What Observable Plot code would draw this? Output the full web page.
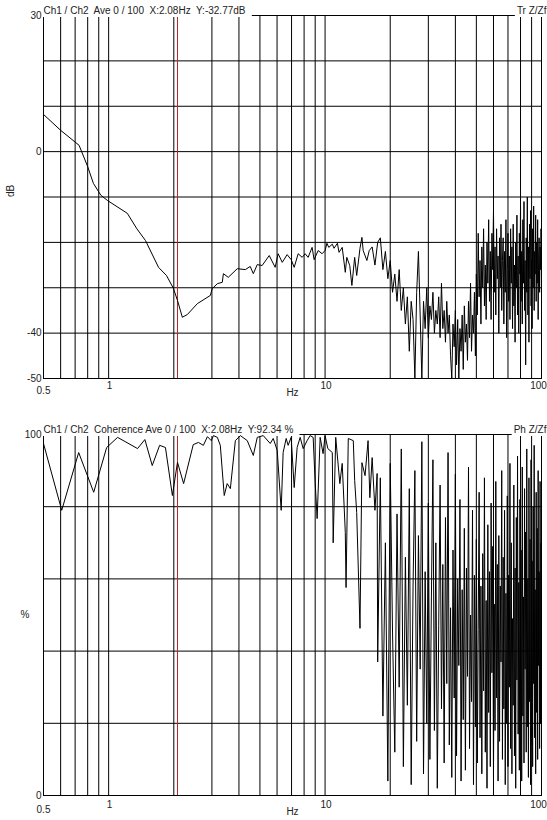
<!DOCTYPE html>
<html><head><meta charset="utf-8">
<script src="https://cdn.jsdelivr.net/npm/d3@7"></script>
<script src="https://cdn.jsdelivr.net/npm/@observablehq/plot@0.6"></script>
<style>
html,body{margin:0;padding:0;background:#fff;}
#chart svg{display:block;}
svg text{white-space:pre;}
</style></head><body><div id="chart"></div>
<script>
// ---- axis / grid definitions ----
const xGrid = [0.6,0.7,0.8,0.9,1,2,3,4,5,6,7,8,9,10,20,30,40,50,60,70,80,90];
const xTicks = [1,10];
const xLastTick = [100];
const xFirstTick = [0.5];
const topGrid = [20,10,0,-10,-20,-30,-40];
const topTicks = [30,0,-40,-50];
const botGrid = [80,60,40,20];
const botTicks = [100,0];
const cursorHz = [2.08];

// ---- transfer function (dB), low-frequency part ----
const trLowFreq = [0.5,0.60,0.73,0.80,0.85,0.92,0.99,1.22,1.35,1.48,1.70,1.85,1.99,2.08,2.19,2.31,2.57,2.95,3.01,3.18,3.35,3.39,3.57,3.93,4.28,4.51,4.66,4.86,5.12,5.52,5.88,6.07,6.34,6.68,6.97,7.20,7.51,7.84,8.09,8.35,8.71,8.90,9.29,9.69,10.0,10.2,10.4,10.8,11.0,11.4,11.6,12.0,12.4,12.6,13.0,13.3,13.7,14.0,14.5,14.8,15.0,15.6,16.0,16.5,17.0];
const trLowDb = [8.2,4.7,1.4,-3.3,-7.0,-9.6,-10.8,-13.6,-17.0,-19.6,-25.5,-27.3,-30.1,-32.8,-36.5,-35.9,-33.5,-31.7,-30.2,-29.1,-28.8,-26.9,-27.7,-25.8,-26.0,-25.3,-26.9,-24.9,-25.1,-22.9,-25.5,-22.5,-24.4,-22.7,-23.8,-25.5,-22.5,-23.3,-22.5,-23.3,-21.1,-23.8,-21.8,-22.5,-21.8,-20.2,-21.1,-20.4,-21.3,-20.2,-22.2,-21.1,-26.6,-23.3,-25.1,-29.5,-23.3,-27.3,-21.3,-18.9,-21.8,-24.0,-21.8,-21,-25];

// ---- shared high-frequency bins (Hz) ----
const hiFreq = [17.5,18,18.5,19,19.5,20,20.5,21,21.5,22,
22.5,23,23.5,24,24.5,25,25.5,26,26.5,27,
27.5,28,28.5,29,29.5,30,30.5,31,31.5,32,
32.5,33,33.5,34,34.5,35,35.5,36,36.5,37,
37.5,38,38.5,39,39.5,40,40.5,41,41.5,42,
42.5,43,43.5,44,44.5,45,45.5,46,46.5,47,
47.5,48,48.5,49,49.5,50,50.5,51,51.5,52,
52.5,53,53.5,54,54.5,55,55.5,56,56.5,57,
57.5,58,58.5,59,59.5,60,60.5,61,61.5,62,
62.5,63,63.5,64,64.5,65,65.5,66,66.5,67,
67.5,68,68.5,69,69.5,70,70.5,71,71.5,72,
72.5,73,73.5,74,74.5,75,75.5,76,76.5,77,
77.5,78,78.5,79,79.5,80,80.5,81,81.5,82,
82.5,83,83.5,84,84.5,85,85.5,86,86.5,87,
87.5,88,88.5,89,89.5,90,90.5,91,91.5,92,
92.5,93,93.5,94,94.5,95,95.5,96,96.5,97,
97.5,98,98.5,99,99.5,100];

// ---- transfer function (dB), high-frequency part ----
const trHiDb = [-20,-19,-26,-22,-28,-24,-31,-27,-33,-26,
-35,-30,-38,-32,-44,-33,-37,-50,-31,-22,
-36,-50,-33,-39,-30,-41,-34,-37,-31,-40,
-35,-38,-32,-41,-29,-39,-35,-42,-33,-40,
-36,-45,-50,-38,-43,-35,-47,-37,-50,-39,
-44,-36,-48,-34,-42,-38,-46,-33,-41,-29,
-44,-36,-40,-31,-45,-27,-36,-18,-32,-24,
-38,-21,-30,-17,-34,-25,-37,-20,-29,-15,
-33,-22,-37,-18,-26,-13,-31,-21,-36,-17,
-28,-23,-40,-19,-30,-16,-35,-24,-19,-38,
-22,-31,-15,-41,-26,-18,-33,-23,-37,-17,
-29,-21,-39,-16,-34,-25,-42,-20,-30,-14,
-36,-23,-40,-18,-27,-12,-33,-22,-38,-15,
-29,-11,-35,-24,-47,-19,-31,-10,-36,-21,
-42,-16,-28,-13,-34,-24,-39,-17,-30,-12,
-35,-22,-27,-14,-33,-20,-29,-15,-37,-23,
-19,-31,-21,-26,-17,-24];

// ---- coherence (%), low-frequency part ----
const cohLowFreq = [0.5,0.607,0.727,0.853,0.979,1.10,1.36,1.47,1.59,1.72,1.83,1.97,2.08,2.22,2.46,2.60,2.74,2.86,2.98,3.05,3.18,3.28,3.42,3.53,3.65,3.85,4.06,4.37,4.66,4.86,5.18,5.58,5.76,6.01,6.27,6.40,6.61,6.75,6.97,7.20,7.43,7.67,7.92,8.26,8.53,8.81,9.0,9.19,9.49,9.79,10.0,10.3,10.8,10.9,11.2,11.7,12.0,12.4,12.5,12.8,13.5,13.7,14.0,14.5,14.8,15.3,15.8,16.1,16.5,17.0,17.4];
const cohLowPct = [97.5,79,95,84,96.4,99.2,96.1,98.6,91.4,97,96.4,83.1,92.3,86.4,97.2,97.8,97,99.4,98.3,99.7,99.2,97,83.1,86.4,85,98.3,99.7,98.3,94.2,99.2,99.7,97.5,98.9,95.6,79,95,98.9,97,99.2,85.3,96.4,99.2,96.1,98.3,99.7,99.2,86.7,76.7,99.2,94.7,99.7,96.1,95,70,99.2,86.4,92,72.9,57.6,98.9,98.3,87.3,78.4,46.3,92.2,88.6,98.3,82.5,93.6,79,89.2];

// ---- coherence (%), high-frequency part ----
const cohHiPct = [37,88,22,70,4,92,45,12,78,30,
96,8,66,25,85,3,58,90,15,72,
35,98,6,62,20,81,10,55,93,18,
70,2,47,86,24,64,9,77,31,95,
14,52,5,68,27,89,11,60,36,82,
4,57,21,74,7,63,33,91,13,50,
26,79,3,61,19,71,9,46,84,16,
58,6,67,29,88,12,54,2,75,23,
62,8,81,34,69,5,53,18,87,27,
64,4,72,15,58,37,90,10,66,24,
79,3,56,20,83,8,61,30,92,13,
70,6,49,25,86,11,63,2,77,32,
94,17,59,7,82,28,68,4,91,22,
55,9,85,35,73,12,96,19,60,5,
88,26,71,3,93,14,65,8,80,31,
97,16,57,6,84,23,74,10,90,36,
62,13,87,20,70,45];

const topTitle = ["Ch1 / Ch2  Ave 0 / 100  X:2.08Hz  Y:-32.77dB"];
const topTag = ["Tr Z/Zf"];
const botTitle = ["Ch1 / Ch2  Coherence Ave 0 / 100  X:2.08Hz  Y:92.34 %"];
const botTag = ["Ph Z/Zf"];

const trData = trLowFreq.map((f,i)=>({f, v: trLowDb[i]})).concat(hiFreq.map((f,i)=>({f, v: trHiDb[i]})));
const cohData = cohLowFreq.map((f,i)=>({f, v: cohLowPct[i]})).concat(hiFreq.map((f,i)=>({f, v: cohHiPct[i]})));

const FONT = "'Liberation Sans', Arial, Helvetica, sans-serif";
const INK = "#222";

function panel(o) {
  return Plot.plot({
    width: 547, height: 410,
    marginLeft: 43, marginRight: 6, marginTop: o.mt, marginBottom: o.mb,
    style: {fontFamily: FONT, fontSize: "10px", color: INK, background: "#fff"},
    x: {type: "log", domain: [0.5, 100], axis: null},
    y: {domain: o.yDomain},
    marks: [
      Plot.ruleX(xGrid, {stroke: "#000", strokeWidth: 1}),
      Plot.ruleY(o.hGrid, {stroke: "#000", strokeWidth: 1}),
      Plot.frame({stroke: "#000", strokeWidth: 1}),
      Plot.ruleX(cursorHz, {stroke: "#b3262a", strokeWidth: 1}),
      Plot.text(o.title, {text: d => d, frameAnchor: "top-left", textAnchor: "start", lineAnchor: "bottom", dy: -1.5, fontSize: 10, fill: INK}),
      Plot.text(o.tag, {text: d => d, frameAnchor: "top-right", textAnchor: "end", lineAnchor: "bottom", dx: 5, dy: -1.5, fontSize: 10, fill: INK}),
      Plot.line(o.data, {x: "f", y: "v", stroke: "#000", strokeWidth: 1, clip: true}),
      Plot.text(xTicks, {x: d => d, text: d => String(d), frameAnchor: "bottom", lineAnchor: "top", dy: o.xPad, dx: 1, fontSize: 10, fill: INK}),
      Plot.text(xLastTick, {x: d => d, text: d => String(d), frameAnchor: "bottom", lineAnchor: "top", dy: o.xPad, dx: -3, fontSize: 10, fill: INK}),
      Plot.text(xFirstTick, {x: d => d, text: d => String(d), frameAnchor: "bottom", lineAnchor: "top", dy: o.xPad + 5, fontSize: 10, fill: INK}),
      Plot.axisY({ticks: o.yTicks, tickSize: 0, tickPadding: 2, tickFormat: d => String(d), label: null}),
      Plot.text(["Hz"], {text: d => d, frameAnchor: "bottom", dy: o.hzDy, fontSize: 10, fill: INK}),
      Plot.text([o.yLabel], {text: d => d, frameAnchor: "left", dx: o.yLabelDx, rotate: o.yRot, fontSize: 10, fill: INK})
    ]
  });
}

// white box behind the header texts so that they break the top border, as in the original display
function maskHeaders(svg, strings) {
  const NS = "http://www.w3.org/2000/svg";
  Array.from(svg.querySelectorAll("text")).filter(t => strings.includes(t.textContent)).forEach(t => {
    const b = t.getBBox();
    const isTag = strings.indexOf(t.textContent) === 1;
    const r = document.createElementNS(NS, "rect");
    r.setAttribute("x", b.x - 2);
    r.setAttribute("y", b.y);
    r.setAttribute("width", b.width + (isTag ? 2 : 8));
    r.setAttribute("height", b.height + 1);
    r.setAttribute("fill", "#fff");
    if (t.getAttribute("transform")) r.setAttribute("transform", t.getAttribute("transform"));
    t.parentNode.insertBefore(r, t);
  });
}

const root = document.getElementById("chart");
const topSvg = panel({data: trData, yDomain: [-50, 30], hGrid: topGrid, yTicks: topTicks, title: topTitle, tag: topTag,
  mt: 15, mb: 32, xPad: 3, hzDy: 17, yLabel: "dB", yLabelDx: -33, yRot: -90});
const botSvg = panel({data: cohData, yDomain: [0, 100], hGrid: botGrid, yTicks: botTicks, title: botTitle, tag: botTag,
  mt: 24, mb: 25, xPad: 5, hzDy: 19, yLabel: "%", yLabelDx: -23, yRot: 0});
root.append(topSvg);
root.append(botSvg);
maskHeaders(topSvg, [topTitle[0], topTag[0]]);
maskHeaders(botSvg, [botTitle[0], botTag[0]]);
</script></body></html>
